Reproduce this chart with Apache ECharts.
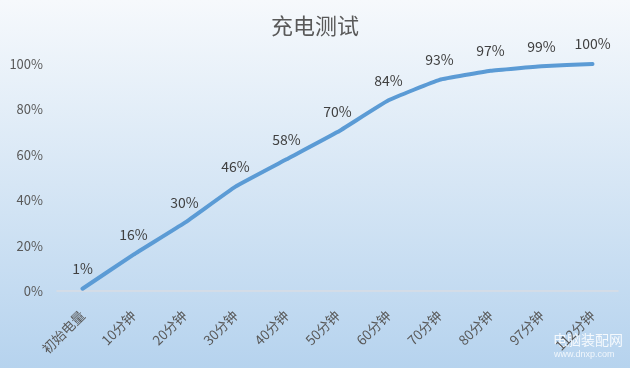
<!DOCTYPE html>
<html><head><meta charset="utf-8">
<script src="https://cdn.jsdelivr.net/npm/echarts@6/dist/echarts.min.js"></script>
<style>html,body{margin:0;padding:0;}#c{width:630px;height:368px;}</style>
</head><body><div id="c"></div>
<script>
const categories = ['初始电量','10分钟','20分钟','30分钟','40分钟','50分钟','60分钟','70分钟','80分钟','97分钟','112分钟'];
const values = [1,16,30,46,58,70,84,93,97,99,100];
const yTicks = [0,20,40,60,80,100];
const title = '充电测试';

const chart = echarts.init(document.getElementById('c'));
chart.setOption({
  animation:false,
  backgroundColor:{type:'linear',x:0,y:0,x2:0,y2:1,colorStops:[{offset:0,color:'#f6f9fc'},{offset:1,color:'#b6d3ee'}]},
  textStyle:{fontFamily:'Noto Sans CJK SC'},
  title:{text:title,left:'center',top:10,textStyle:{fontSize:22,fontWeight:'normal',color:'#595959',fontFamily:'Noto Sans CJK SC'}},
  grid:{left:57,right:12,top:64,bottom:77},
  xAxis:{type:'category',data:categories,boundaryGap:true,
    axisLine:{lineStyle:{color:'#d9dde3',width:1.5}},axisTick:{show:false},
    axisLabel:{rotate:45,fontSize:13.5,color:'#595959',margin:22,interval:0}},
  yAxis:{type:'value',min:yTicks[0],max:yTicks[yTicks.length-1],interval:20,
    axisLine:{show:false},axisTick:{show:false},splitLine:{show:false},
    axisLabel:{formatter:'{value}%',fontSize:13,color:'#595959',margin:14}},
  series:[{type:'line',data:values,symbol:'circle',symbolSize:2,showSymbol:true,smooth:0.1,
    itemStyle:{color:'#5b9bd5',borderWidth:0},
    lineStyle:{color:'#5b9bd5',width:4,cap:'round',join:'round'},
    label:{show:true,position:'top',distance:12,formatter:'{c}%',fontSize:14,color:'#404040',opacity:1},
    labelLayout:{hideOverlap:false}}],
  graphic:[
    {type:'text',left:553,top:333,style:{text:'电脑装配网',fontSize:14,fill:'rgba(255,255,255,0.85)',fontFamily:'Noto Sans CJK SC'}},
    {type:'text',left:554,top:350,style:{text:'www.dnxp.com',fontSize:9,fill:'rgba(255,255,255,0.8)'}}
  ]
});
</script></body></html>
